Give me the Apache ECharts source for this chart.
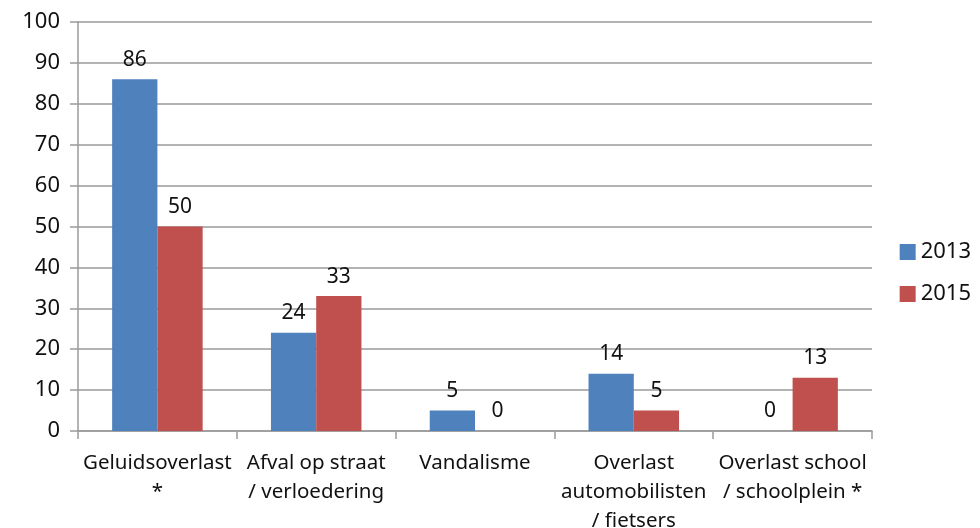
<!DOCTYPE html>
<html>
<head>
<meta charset="utf-8">
<script src="https://cdn.jsdelivr.net/npm/echarts@6/dist/echarts.min.js"></script>
<style>
  html, body { margin: 0; padding: 0; background: #fff; }
  #chart { width: 980px; height: 528px; }
</style>
</head>
<body>
<div id="chart"></div>
<script>
// categorieen
var categories = [
	'Geluidsoverlast\n*',
	'Afval op straat\n/ verloedering',
	'Vandalisme',
	'Overlast\nautomobilisten\n/ fietsers',
	'Overlast school\n/ schoolplein *'
];
var values2013 = [86, 24, 5, 14, 0];
var values2015 = [50, 33, 0, 5, 13];
var yTicks = { min: 0, max: 100, interval: 10 };

var FONT = 'Noto Sans';
var TEXT = '#111';
var AXIS = '#9a9a9a';

var chart = echarts.init(document.getElementById('chart'));

function barLabel() {
	return {
		show: true,
		position: 'top',
		distance: 9,
		color: TEXT,
		fontFamily: FONT,
		fontSize: 21
	};
}

chart.setOption({
	animation: false,
	grid: { left: 78, right: 108, top: 22, bottom: 97, outerBoundsMode: 'none' },
	legend: {
		orient: 'vertical',
		right: 4,
		top: 236,
		itemWidth: 16,
		itemHeight: 16,
		itemGap: 20,
		icon: 'rect',
		textStyle: { color: TEXT, fontFamily: FONT, fontSize: 22 },
		data: ['2013', '2015']
	},
	xAxis: {
		type: 'category',
		data: categories,
		axisLine: { lineStyle: { color: AXIS, width: 1.5 } },
		axisTick: { show: true, length: 8, lineStyle: { color: AXIS, width: 1.5 } },
		axisLabel: {
			interval: 0,
			margin: 18,
			color: TEXT,
			fontFamily: FONT,
			fontSize: 20.5,
			lineHeight: 29
		}
	},
	yAxis: {
		type: 'value',
		min: yTicks.min,
		max: yTicks.max,
		interval: yTicks.interval,
		axisLine: { show: true, lineStyle: { color: AXIS, width: 1.5 } },
		axisTick: { show: true, length: 8, lineStyle: { color: AXIS, width: 1.5 } },
		splitLine: { lineStyle: { color: AXIS, width: 1.5 } },
		axisLabel: { margin: 18, color: TEXT, fontFamily: FONT, fontSize: 22 }
	},
	series: [
		{
			name: '2013',
			type: 'bar',
			data: values2013,
			barGap: '0%',
			barCategoryGap: '43%',
			itemStyle: { color: '#4F81BD' },
			label: barLabel()
		},
		{
			name: '2015',
			type: 'bar',
			data: values2015,
			itemStyle: { color: '#C0504D' },
			label: barLabel()
		}
	]
});
</script>
</body>
</html>
